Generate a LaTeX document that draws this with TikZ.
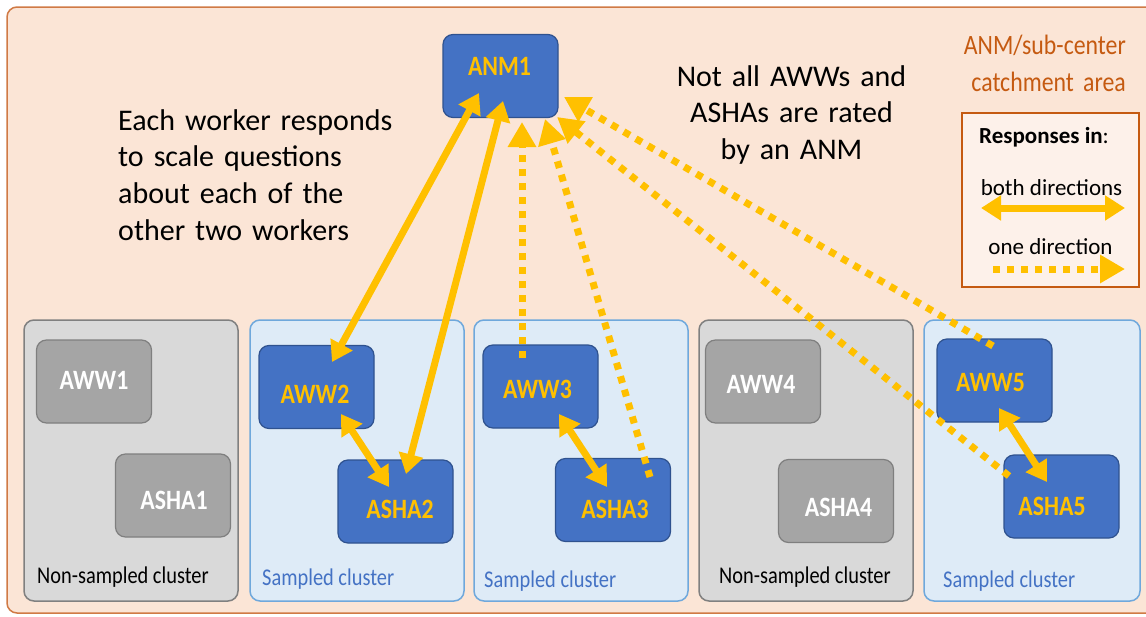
\documentclass[tikz,border=0pt]{standalone}
\usepackage{fontspec}
\setmainfont{Carlito}
\newfontfamily\condfont[FakeStretch=0.85]{Carlito}
\usetikzlibrary{arrows.meta}
\definecolor{peach}{HTML}{FBE5D6}
\definecolor{outerline}{HTML}{D07A45}
\definecolor{orangetxt}{HTML}{C55A11}
\definecolor{legfill}{HTML}{FDF1EA}
\definecolor{nodeblue}{HTML}{4472C4}
\definecolor{nodeblueline}{HTML}{2F528F}
\definecolor{nodegray}{HTML}{A5A5A5}
\definecolor{nodegrayline}{HTML}{7F7F7F}
\definecolor{clgray}{HTML}{D9D9D9}
\definecolor{clgrayline}{HTML}{808080}
\definecolor{clblue}{HTML}{DEEBF7}
\definecolor{clblueline}{HTML}{6FA8DC}
\definecolor{arrowc}{HTML}{FFC000}
\newcommand\nlab[3]{\raisebox{#2pt}{\makebox[0pt]{\hspace*{#1pt}#3\hspace*{-#1pt}}}}
\begin{document}
\begin{tikzpicture}[x=1pt,y=-1pt,
  wbox/.style={rounded corners=10pt, minimum width=115pt, minimum height=83pt,
    inner sep=0pt, text height=0pt, text depth=0pt, line width=1.2pt,
    font=\condfont\bfseries\fontsize{28}{30}\selectfont},
  bluebox/.style={wbox, draw=nodeblueline, fill=nodeblue, text=arrowc},
  graybox/.style={wbox, draw=nodegrayline, fill=nodegray, text=white},
  cluster/.style={rounded corners=10pt, line width=1.5pt, inner sep=0pt},
  sampled/.style={cluster, draw=clblueline, fill=clblue},
  nonsampled/.style={cluster, draw=clgrayline, fill=clgray},
  cllabel/.style={anchor=base west, inner sep=0pt, font=\condfont\fontsize{24}{28}\selectfont},
  both/.style={draw=arrowc, line width=7pt, {Triangle[length=20pt,width=24pt]}-{Triangle[length=20pt,width=24pt]}},
  one/.style={draw=arrowc, line width=7pt, dash pattern=on 7pt off 7pt, -{Triangle[length=25pt,width=27pt]}}
]
\useasboundingbox (0,0) rectangle (1146,616);
\clip (0,0) rectangle (1146,616);
% outer catchment area
\draw[fill=peach, draw=outerline, line width=1.5pt, rounded corners=10pt] (7,7) rectangle (1170,613);

% clusters
\draw[nonsampled] (24,320) rectangle (238,601);
\draw[sampled] (250,320) rectangle (464,601);
\draw[sampled] (474,320) rectangle (688,601);
\draw[nonsampled] (699,320) rectangle (913,601);
\draw[sampled] (924,320) rectangle (1140,601);

\node[cllabel] (cl1) at (37,583) {Non-sampled cluster};
\node[cllabel, text=nodeblue] (cl2) at (262,585) {Sampled cluster};
\node[cllabel, text=nodeblue] (cl3) at (484,587) {Sampled cluster};
\node[cllabel] (cl4) at (719,583) {Non-sampled cluster};
\node[cllabel, text=nodeblue] (cl5) at (943,587) {Sampled cluster};

% worker nodes
\node[bluebox] (ANM1) at (500.5,76) {\nlab{-1}{1}{ANM1}};
\node[graybox] (AWW1) at (94,381.5) {\nlab{0}{-7.5}{AWW1}};
\node[graybox] (ASHA1) at (173,495.5) {\nlab{1}{-13.5}{ASHA1}};
\node[bluebox] (AWW2) at (316.5,387) {\nlab{-1.5}{-16}{AWW2}};
\node[bluebox] (ASHA2) at (395.5,501.5) {\nlab{4.5}{-16.5}{ASHA2}};
\node[bluebox] (AWW3) at (540.5,386.5) {\nlab{-3}{-11.5}{AWW3}};
\node[bluebox] (ASHA3) at (613,500) {\nlab{2}{-18}{ASHA3}};
\node[graybox] (AWW4) at (763,381.5) {\nlab{-2}{-11.5}{AWW4}};
\node[graybox] (ASHA4) at (836,501) {\nlab{2.5}{-15}{ASHA4}};
\node[bluebox] (AWW5) at (994.5,380.5) {\nlab{-4}{-11}{AWW5}};
\node[bluebox] (ASHA5) at (1061.5,496.5) {\nlab{-9.5}{-18.5}{ASHA5}};

% texts
\node[anchor=base west, inner sep=0pt, text width=300pt, align=left,
  font=\fontsize{30}{36.7}\selectfont] (txt1) at (118,130)
  {Each worker responds\\to scale questions\\about each of the\\other two workers};
\node[anchor=base, inner sep=0pt, text width=280pt, align=center,
  font=\fontsize{30}{36.7}\selectfont] (txt2) at (791.5,86)
  {Not all AWWs and\\ASHAs are rated\\by an ANM};
\node[anchor=base east, inner sep=0pt, text width=220pt, align=right, text=orangetxt,
  font=\condfont\fontsize{28}{37}\selectfont] (txt3) at (1126,54)
  {ANM/sub-center\\catchment area};

% legend
\draw[fill=legfill, draw=orangetxt, line width=2pt] (962,113) rectangle (1139,287);
\node[anchor=base west, inner sep=0pt, font=\fontsize{23}{26}\selectfont] (legt) at (979,143) {\textbf{Responses in}:};
\node[anchor=base, inner sep=0pt, font=\fontsize{23}{26}\selectfont] (legb) at (1051.5,195) {both directions};
\node[anchor=base, inner sep=0pt, font=\fontsize{23}{26}\selectfont] (lego) at (1050.5,254) {one direction};
\coordinate (lb1) at (981,208);
\coordinate (lb2) at (1125,208);
\coordinate (lo1) at (993,269);
\coordinate (lo2) at (1125,269);
\draw[both] (lb1) -- (lb2);
\draw[one] (lo1) -- (lo2);

% connectors: both directions
\draw[both] ([shift={(-21.5,17)}]ANM1.center) -- ([shift={(15.5,-25)}]AWW2.center);
\draw[both] ([shift={(2.5,25)}]ANM1.center) -- ([shift={(10.5,-27.5)}]ASHA2.center);
\draw[both] ([shift={(24.5,27)}]AWW2.center) -- ([shift={(-6.5,-14.5)}]ASHA2.center);
\draw[both] ([shift={(18.5,27.5)}]AWW3.center) -- ([shift={(-6,-13)}]ASHA3.center);
\draw[both] ([shift={(4.5,27.5)}]AWW5.center) -- ([shift={(-14.5,-14.5)}]ASHA5.center);

% connectors: one direction
\draw[one] ([shift={(-18.5,-28.5)}]AWW3.center) -- ([shift={(21.5,46)}]ANM1.center);
\draw[one] ([shift={(37,-23)}]ASHA3.center) -- ([shift={(44.5,43)}]ANM1.center);
\draw[one] ([shift={(-52.5,-20.5)}]ASHA5.center) -- ([shift={(56.5,41)}]ANM1.center);
\draw[one] ([shift={(-1.5,-34.5)}]AWW5.center) -- ([shift={(63.5,21)}]ANM1.center);
\end{tikzpicture}
\end{document}
